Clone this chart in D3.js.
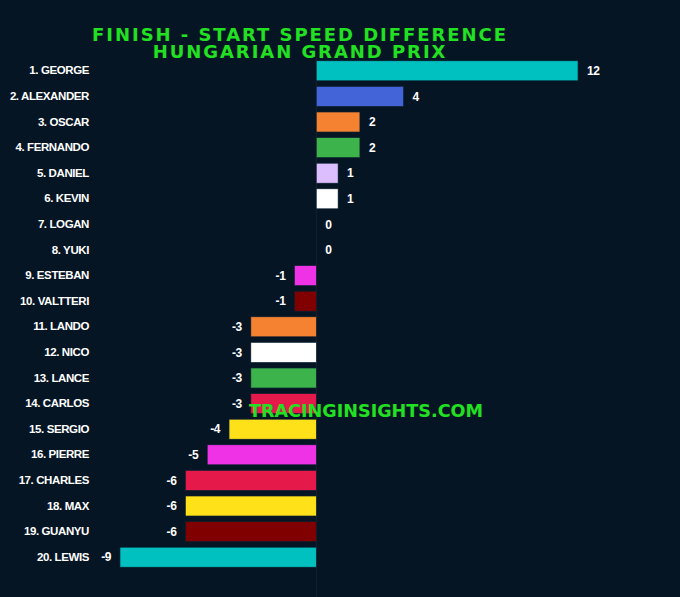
<!DOCTYPE html>
<html>
<head>
<meta charset="utf-8">
<script src="https://cdn.jsdelivr.net/npm/d3@7"></script>
<style>
  html, body { margin: 0; padding: 0; background: #061524; }
  svg { display: block; }
</style>
</head>
<body>
<div id="graph"></div>
<script>
// Données
const drivers = ["1. GEORGE", "2. ALEXANDER", "3. OSCAR", "4. FERNANDO", "5. DANIEL", "6. KEVIN",
  "7. LOGAN", "8. YUKI", "9. ESTEBAN", "10. VALTTERI", "11. LANDO", "12. NICO", "13. LANCE",
  "14. CARLOS", "15. SERGIO", "16. PIERRE", "17. CHARLES", "18. MAX", "19. GUANYU", "20. LEWIS"];
const diffs = [12, 4, 2, 2, 1, 1, 0, 0, -1, -1, -3, -3, -3, -3, -4, -5, -6, -6, -6, -9];
const colors = ["#00c0c0", "#4363d8", "#f58231", "#3cb44b", "#dcbeff", "#ffffff",
  "#4363d8", "#469990", "#f032e6", "#800000", "#f58231", "#ffffff", "#3cb44b",
  "#e6194b", "#ffe119", "#f032e6", "#e6194b", "#ffe119", "#800000", "#00c0c0"];
const titleLines = ["FINISH - START SPEED DIFFERENCE", "HUNGARIAN GRAND PRIX"];

const W = 680, H = 597;
const svg = d3.select("#graph").append("svg")
  .attr("width", W).attr("height", H);

svg.append("rect").attr("width", W).attr("height", H).attr("fill", "#061524");

// Échelles
const x = d3.scaleLinear().domain([-9, 12]).range([120, 578]);
const y = d3.scaleBand().domain(drivers).range([58, 570]).paddingInner(0.22).paddingOuter(0.11);

// Ligne zéro
svg.append("line")
  .attr("x1", x(0)).attr("x2", x(0))
  .attr("y1", 58).attr("y2", H)
  .attr("stroke", "#16222e").attr("stroke-width", 1);

// Barres
svg.selectAll(".bar")
  .data(drivers)
  .enter()
  .append("rect")
  .attr("class", "bar")
  .attr("x", (d, i) => x(Math.min(0, diffs[i])))
  .attr("y", d => y(d))
  .attr("width", (d, i) => Math.abs(x(diffs[i]) - x(0)))
  .attr("height", y.bandwidth())
  .attr("fill", (d, i) => colors[i])
  .attr("stroke", "#0b2030")
  .attr("stroke-width", 0.6);

// Étiquettes des pilotes
svg.append("g")
  .attr("transform", "translate(89,0)")
  .call(d3.axisLeft(y).tickSize(0).tickPadding(0))
  .call(g => g.select(".domain").remove())
  .selectAll("text")
  .attr("fill", "#ffffff")
  .style("font-family", "'Liberation Sans', Arial, sans-serif")
  .style("font-size", "11.5px")
  .style("font-weight", "bold")
  .style("letter-spacing", "-0.4px");

// Valeurs
svg.selectAll(".val")
  .data(drivers)
  .enter()
  .append("text")
  .attr("class", "val")
  .attr("x", (d, i) => diffs[i] >= 0 ? x(diffs[i]) + 9 : x(diffs[i]) - 9)
  .attr("y", d => y(d) + y.bandwidth() / 2)
  .attr("dy", "0.35em")
  .attr("text-anchor", (d, i) => diffs[i] >= 0 ? "start" : "end")
  .attr("fill", "#ffffff")
  .style("font-family", "'Liberation Sans', Arial, sans-serif")
  .style("font-size", "12px")
  .style("font-weight", "bold")
  .style("letter-spacing", "-0.4px")
  .text((d, i) => diffs[i]);

// Titre (un seul texte, deux lignes)
const title = svg.append("text")
  .attr("text-anchor", "middle")
  .attr("fill", "#22e022")
  .style("font-family", "'DejaVu Sans', sans-serif")
  .style("font-size", "18px")
  .style("font-weight", "bold")
  .style("letter-spacing", "1.95px");

title.selectAll("tspan")
  .data(titleLines)
  .enter()
  .append("tspan")
  .attr("x", 300)
  .attr("y", (d, i) => 41 + i * 16.5)
  .text(d => d);

// Filigrane
svg.append("text")
  .attr("x", 366)
  .attr("y", 417)
  .attr("text-anchor", "middle")
  .attr("fill", "#22e022")
  .style("font-family", "'DejaVu Sans', sans-serif")
  .style("font-size", "17.6px")
  .style("font-weight", "bold")
  .text("TRACINGINSIGHTS.COM");
</script>
</body>
</html>
